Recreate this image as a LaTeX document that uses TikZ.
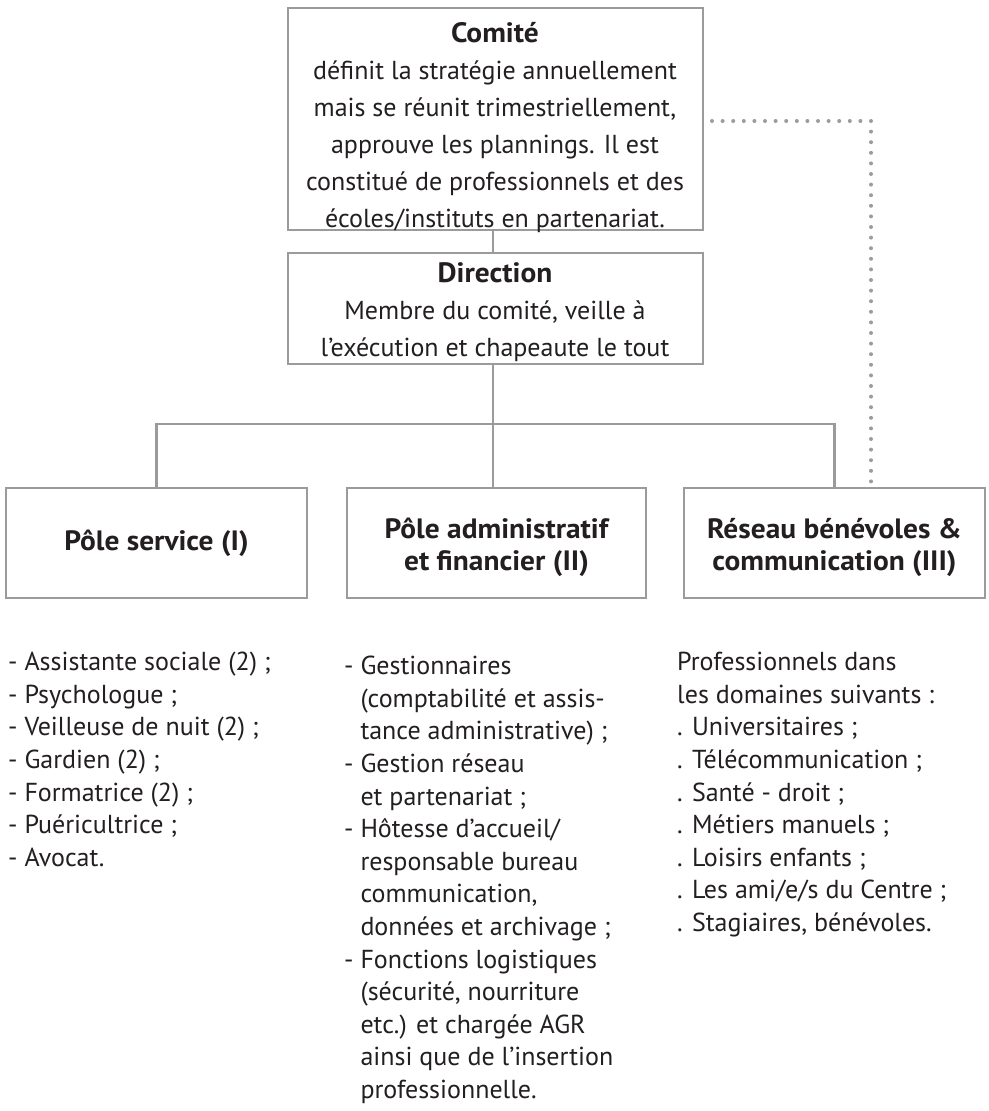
\documentclass[tikz,border=0pt]{standalone}
\usepackage{fontspec}
\setmainfont{PT Sans}
\newfontfamily\hfont[FakeStretch=1.05]{PT Sans}
\definecolor{txt}{HTML}{231F20}
\definecolor{ln}{HTML}{9B9B9B}
\definecolor{dotc}{HTML}{9C9C9C}
\newcommand{\hd}{\hfont\bfseries\fontsize{28}{37}\selectfont}
\begin{document}
\begin{tikzpicture}[x=1pt,y=-1pt,
  box/.style={draw=ln,line width=2.7pt,inner sep=0pt,fill=white},
  conn/.style={draw=ln,line width=2.5pt},
  dotline/.style={draw=dotc,line width=4pt,line cap=round,dash pattern=on 0pt off 10.6pt},
  boxtext/.style={text=txt,align=center,inner sep=0pt,font=\fontsize{26}{37}\selectfont},
  headtext/.style={text=txt,align=center,inner sep=0pt,font=\hfont\bfseries\fontsize{28}{32}\selectfont},
  listtext/.style={text=txt,align=left,inner sep=0pt,anchor=north west,font=\fontsize{26}{32.6}\selectfont}]
\useasboundingbox[fill=white] (0,0) rectangle (988,1111);
% boxes
\node[box,minimum width=415pt,minimum height=222pt] (comite) at (495.5,119) {};
\node[box,minimum width=415pt,minimum height=111pt] (direction) at (495.5,308.5) {};
\node[box,minimum width=301pt,minimum height=110pt] (p1) at (156.5,543) {};
\node[box,minimum width=299pt,minimum height=110pt] (p2) at (496.5,543) {};
\node[box,minimum width=301pt,minimum height=110pt] (p3) at (834.5,543) {};
% connectors
\coordinate (vx) at (493,0);
\coordinate (bus) at (0,424);
\coordinate (dstart) at (712,121);
\coordinate (dx) at (871,0);
\draw[conn] (comite.south -| vx) -- (direction.north -| vx);
\draw[conn] (direction.south -| vx) -- (p2.north -| vx);
\draw[conn] (p1.north) |- (p3.north |- bus) -- (p3.north);
\draw[dotline] (dstart) -| (dx |- p3.north);
% box texts
\node[boxtext,anchor=north] (tcomite) at (495,22) {{\hd Comité}\\définit la stratégie annuellement\\mais se réunit trimestriellement,\\approuve les plannings. Il est\\constitué de professionnels et des\\écoles/instituts en partenariat.};
\node[boxtext,anchor=north] (tdirection) at (495,262) {{\hd Direction}\\Membre du comité, veille à\\l’exécution et chapeaute le tout};
\node[headtext] (t1) at (156.5,543) {Pôle service (I)};
\node[headtext] (t2) at (496.5,547) {Pôle administratif\\et financier (II)};
\node[headtext] (t3) at (834.5,547) {Réseau bénévoles \&\\communication (III)};
% lists
\node[listtext] (l1) at (8,652) {- Assistante sociale (2) ;\\- Psychologue ;\\- Veilleuse de nuit (2) ;\\- Gardien (2) ;\\- Formatrice (2) ;\\- Puéricultrice ;\\- Avocat.};
\node[listtext] (l2) at (344,656) {- Gestionnaires\\\hphantom{- }(comptabilité et assis-\\\hphantom{- }tance administrative) ;\\- Gestion réseau\\\hphantom{- }et partenariat ;\\- Hôtesse d’accueil/\\\hphantom{- }responsable bureau\\\hphantom{- }communication,\\\hphantom{- }données et archivage ;\\- Fonctions logistiques\\\hphantom{- }(sécurité, nourriture\\\hphantom{- }etc.) et chargée AGR\\\hphantom{- }ainsi que de l’insertion\\\hphantom{- }professionnelle.};
\node[listtext] (l3) at (677,652) {Professionnels dans\\les domaines suivants :\\. Universitaires ;\\. Télécommunication ;\\. Santé - droit ;\\. Métiers manuels ;\\. Loisirs enfants ;\\. Les ami/e/s du Centre ;\\. Stagiaires, bénévoles.};
\end{tikzpicture}
\end{document}
